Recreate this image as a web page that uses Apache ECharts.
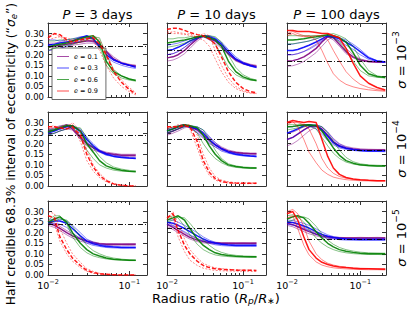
<!DOCTYPE html>
<html><head><meta charset="utf-8">
<script src="https://cdn.jsdelivr.net/npm/echarts@6/dist/echarts.min.js"></script>
<style>html,body{margin:0;padding:0;background:#fff}#c{width:415px;height:312px}</style>
</head><body><div id="c"></div>
<script>
// ---- x sample points (radius ratio) per column ----
const X_P3 = [0.010,0.012,0.014,0.017,0.020,0.025,0.030,0.036,0.043,0.052,0.064,0.08,0.10,0.12];
const X_P10 = [0.010,0.012,0.014,0.017,0.020,0.025,0.030,0.036,0.043,0.052,0.064,0.08,0.10,0.125,0.15];
const X_P100 = [0.010,0.012,0.014,0.017,0.020,0.025,0.030,0.036,0.043,0.052,0.064,0.08,0.10,0.13,0.17,0.22];
const PERIODS = ['3','10','100'];
const SIGMA_EXP = ['\u22123','\u22124','\u22125'];
const E_VALUES = ['0.1','0.3','0.6','0.9'];
const REFERENCE_LEVEL = [0.236, 0.22, 0.172];
const X_TICKS = [0.01, 0.1];
const Y_TICKS = [0, 0.05, 0.10, 0.15, 0.20, 0.25, 0.30];

// each array: [thick curve, thin curve A, thin curve B]
// P = 3 days, sigma = 1e-3
const p3_s3_purple = [
 [0.235,0.24,0.245,0.25,0.255,0.26,0.265,0.265,0.25,0.215,0.18,0.16,0.15,0.145],
 [0.255,0.255,0.26,0.26,0.265,0.27,0.27,0.26,0.24,0.2,0.175,0.16,0.15,0.15],
 [0.22,0.225,0.23,0.24,0.245,0.25,0.255,0.255,0.24,0.22,0.19,0.165,0.155,0.15]];
const p3_s3_blue = [
 [0.245,0.25,0.255,0.26,0.265,0.28,0.29,0.275,0.24,0.2,0.175,0.16,0.15,0.14],
 [0.27,0.27,0.265,0.27,0.275,0.285,0.285,0.27,0.25,0.21,0.18,0.16,0.15,0.145],
 [0.22,0.225,0.23,0.24,0.25,0.265,0.28,0.28,0.23,0.19,0.165,0.15,0.14,0.135]];
const p3_s3_green = [
 [0.235,0.245,0.25,0.255,0.265,0.275,0.285,0.29,0.26,0.17,0.12,0.1,0.085,0.078],
 [0.265,0.265,0.27,0.27,0.275,0.28,0.28,0.275,0.24,0.15,0.11,0.09,0.08,0.075],
 [0.22,0.23,0.24,0.245,0.25,0.26,0.27,0.285,0.28,0.2,0.13,0.1,0.085,0.08]];
const p3_s3_red = [
 [0.28,0.3,0.295,0.27,0.26,0.27,0.275,0.28,0.25,0.2,0.12,0.07,0.035,0.015],
 [0.27,0.28,0.285,0.28,0.27,0.275,0.28,0.29,0.27,0.21,0.13,0.08,0.045,0.02],
 [0.29,0.3,0.285,0.26,0.25,0.26,0.27,0.27,0.22,0.15,0.09,0.05,0.025,0.01]];
// P = 10 days, sigma = 1e-3
const p10_s3_purple = [
 [0.185,0.19,0.2,0.22,0.245,0.275,0.29,0.275,0.265,0.24,0.205,0.175,0.16,0.15,0.145],
 [0.2,0.205,0.215,0.235,0.255,0.28,0.285,0.27,0.255,0.23,0.2,0.17,0.155,0.147,0.142],
 [0.17,0.175,0.185,0.205,0.23,0.265,0.285,0.28,0.27,0.25,0.215,0.18,0.165,0.155,0.15]];
const p10_s3_blue = [
 [0.22,0.225,0.235,0.25,0.265,0.28,0.29,0.285,0.275,0.25,0.215,0.18,0.16,0.148,0.14],
 [0.245,0.25,0.255,0.265,0.275,0.285,0.285,0.28,0.265,0.24,0.205,0.175,0.157,0.145,0.138],
 [0.2,0.205,0.215,0.235,0.255,0.275,0.29,0.29,0.28,0.26,0.225,0.19,0.165,0.152,0.143]];
const p10_s3_green = [
 [0.255,0.26,0.265,0.27,0.275,0.285,0.29,0.28,0.27,0.24,0.17,0.12,0.095,0.083,0.078],
 [0.275,0.275,0.28,0.28,0.285,0.285,0.285,0.275,0.25,0.2,0.14,0.105,0.088,0.08,0.076],
 [0.235,0.24,0.245,0.255,0.265,0.28,0.29,0.29,0.285,0.26,0.2,0.14,0.105,0.088,0.08]];
const p10_s3_red = [
 [0.32,0.325,0.325,0.315,0.305,0.295,0.29,0.275,0.25,0.19,0.12,0.07,0.04,0.025,0.02],
 [0.3,0.31,0.305,0.3,0.29,0.285,0.3,0.29,0.22,0.15,0.09,0.05,0.03,0.02,0.017],
 [0.31,0.3,0.3,0.295,0.3,0.28,0.27,0.24,0.18,0.12,0.07,0.04,0.025,0.018,0.015]];
// P = 100 days, sigma = 1e-3
const p100_s3_purple = [
 [0.17,0.172,0.178,0.19,0.205,0.23,0.26,0.285,0.28,0.25,0.215,0.19,0.175,0.168,0.165,0.165],
 [0.2,0.2,0.205,0.215,0.23,0.25,0.27,0.285,0.27,0.24,0.205,0.185,0.172,0.166,0.163,0.163],
 [0.145,0.148,0.155,0.168,0.185,0.21,0.24,0.27,0.285,0.265,0.23,0.2,0.18,0.17,0.167,0.167]];
const p100_s3_blue = [
 [0.22,0.22,0.225,0.235,0.245,0.26,0.275,0.29,0.285,0.275,0.26,0.24,0.215,0.185,0.17,0.165],
 [0.25,0.25,0.255,0.26,0.265,0.275,0.285,0.29,0.28,0.265,0.245,0.225,0.2,0.178,0.167,0.163],
 [0.2,0.2,0.205,0.215,0.225,0.245,0.265,0.285,0.29,0.28,0.27,0.25,0.225,0.19,0.172,0.167]];
const p100_s3_green = [
 [0.27,0.27,0.272,0.275,0.28,0.285,0.29,0.295,0.29,0.28,0.26,0.21,0.15,0.11,0.097,0.092],
 [0.29,0.29,0.29,0.29,0.29,0.29,0.29,0.29,0.28,0.26,0.22,0.17,0.125,0.1,0.093,0.09],
 [0.25,0.252,0.255,0.26,0.265,0.275,0.285,0.295,0.3,0.29,0.275,0.24,0.18,0.125,0.1,0.094]];
const p100_s3_red = [
 [0.315,0.315,0.31,0.31,0.31,0.305,0.3,0.3,0.29,0.28,0.23,0.16,0.1,0.065,0.045,0.033],
 [0.3,0.31,0.3,0.29,0.285,0.29,0.29,0.27,0.22,0.17,0.12,0.085,0.06,0.045,0.035,0.03],
 [0.29,0.3,0.29,0.285,0.29,0.27,0.22,0.16,0.11,0.08,0.06,0.048,0.04,0.034,0.03,0.027]];
// P = 3 days, sigma = 1e-4
const p3_s4_purple = [
 [0.26,0.265,0.275,0.285,0.27,0.23,0.2,0.18,0.165,0.155,0.15,0.145,0.145,0.145],
 [0.27,0.275,0.285,0.29,0.28,0.24,0.205,0.185,0.17,0.16,0.155,0.15,0.15,0.15],
 [0.245,0.25,0.26,0.27,0.265,0.22,0.19,0.17,0.16,0.15,0.145,0.14,0.14,0.14]];
const p3_s4_blue = [
 [0.25,0.26,0.27,0.28,0.285,0.26,0.22,0.19,0.165,0.15,0.14,0.135,0.132,0.13],
 [0.265,0.27,0.28,0.29,0.285,0.25,0.21,0.18,0.16,0.145,0.14,0.135,0.13,0.13],
 [0.24,0.25,0.26,0.27,0.28,0.27,0.23,0.2,0.17,0.155,0.145,0.14,0.135,0.135]];
const p3_s4_green = [
 [0.255,0.265,0.275,0.285,0.285,0.26,0.2,0.16,0.12,0.095,0.083,0.075,0.07,0.068],
 [0.265,0.27,0.28,0.29,0.28,0.23,0.17,0.13,0.1,0.085,0.075,0.07,0.068,0.066],
 [0.24,0.25,0.26,0.27,0.28,0.275,0.23,0.18,0.14,0.11,0.09,0.08,0.074,0.07]];
const p3_s4_red = [
 [0.28,0.28,0.275,0.27,0.28,0.24,0.15,0.09,0.05,0.025,0.01,0.003,0,0],
 [0.27,0.275,0.28,0.29,0.29,0.21,0.12,0.07,0.04,0.02,0.008,0.002,0,0],
 [0.28,0.285,0.27,0.275,0.3,0.26,0.17,0.1,0.06,0.03,0.012,0.005,0,0]];
// P = 10 days, sigma = 1e-4
const p10_s4_purple = [
 [0.25,0.26,0.27,0.285,0.28,0.265,0.24,0.215,0.195,0.178,0.165,0.158,0.155,0.153,0.153],
 [0.265,0.27,0.28,0.29,0.275,0.25,0.225,0.2,0.185,0.17,0.16,0.155,0.152,0.152,0.15],
 [0.24,0.25,0.26,0.275,0.28,0.275,0.255,0.23,0.205,0.185,0.17,0.162,0.158,0.156,0.156]];
const p10_s4_blue = [
 [0.26,0.27,0.28,0.29,0.28,0.27,0.25,0.22,0.195,0.175,0.16,0.15,0.145,0.142,0.14],
 [0.27,0.275,0.285,0.29,0.275,0.255,0.23,0.205,0.185,0.165,0.155,0.147,0.142,0.14,0.138],
 [0.25,0.26,0.27,0.28,0.285,0.28,0.265,0.235,0.205,0.18,0.165,0.155,0.148,0.145,0.143]];
const p10_s4_green = [
 [0.26,0.27,0.28,0.29,0.285,0.275,0.24,0.19,0.15,0.12,0.1,0.092,0.088,0.085,0.085],
 [0.27,0.28,0.285,0.29,0.28,0.25,0.2,0.16,0.13,0.11,0.095,0.088,0.085,0.083,0.083],
 [0.25,0.26,0.27,0.28,0.285,0.28,0.265,0.22,0.17,0.13,0.105,0.095,0.09,0.088,0.087]];
const p10_s4_red = [
 [0.28,0.28,0.28,0.285,0.28,0.21,0.12,0.065,0.035,0.022,0.016,0.014,0.013,0.013,0.013],
 [0.27,0.28,0.29,0.29,0.27,0.18,0.1,0.05,0.028,0.018,0.014,0.012,0.011,0.011,0.011],
 [0.28,0.275,0.28,0.29,0.29,0.24,0.15,0.085,0.045,0.028,0.02,0.016,0.015,0.015,0.014]];
// P = 100 days, sigma = 1e-4
const p100_s4_purple = [
 [0.22,0.23,0.245,0.265,0.28,0.285,0.27,0.24,0.21,0.19,0.18,0.175,0.172,0.17,0.17,0.17],
 [0.25,0.255,0.265,0.28,0.285,0.28,0.255,0.225,0.2,0.185,0.177,0.173,0.17,0.169,0.168,0.168],
 [0.19,0.2,0.215,0.24,0.26,0.28,0.28,0.255,0.225,0.2,0.187,0.18,0.176,0.174,0.173,0.173]];
const p100_s4_blue = [
 [0.25,0.26,0.27,0.285,0.29,0.285,0.265,0.235,0.205,0.188,0.178,0.172,0.168,0.166,0.165,0.165],
 [0.28,0.28,0.285,0.29,0.285,0.27,0.245,0.215,0.195,0.18,0.173,0.168,0.165,0.163,0.163,0.162],
 [0.22,0.23,0.245,0.265,0.28,0.29,0.28,0.255,0.22,0.198,0.183,0.175,0.17,0.168,0.167,0.167]];
const p100_s4_green = [
 [0.28,0.282,0.285,0.288,0.29,0.285,0.26,0.22,0.18,0.145,0.12,0.108,0.1,0.097,0.095,0.095],
 [0.29,0.29,0.29,0.29,0.285,0.27,0.23,0.19,0.155,0.13,0.113,0.104,0.098,0.095,0.094,0.093],
 [0.265,0.27,0.275,0.28,0.285,0.29,0.28,0.25,0.21,0.17,0.135,0.115,0.105,0.1,0.098,0.097]];
const p100_s4_red = [
 [0.3,0.31,0.305,0.3,0.305,0.3,0.22,0.14,0.085,0.055,0.04,0.033,0.03,0.027,0.025,0.025],
 [0.29,0.305,0.28,0.22,0.16,0.11,0.075,0.055,0.042,0.035,0.03,0.027,0.025,0.024,0.023,0.023],
 [0.3,0.3,0.3,0.29,0.27,0.2,0.13,0.085,0.06,0.045,0.037,0.032,0.029,0.027,0.026,0.026]];
// P = 3 days, sigma = 1e-5
const p3_s5_purple = [
 [0.245,0.235,0.22,0.2,0.185,0.17,0.16,0.153,0.148,0.145,0.145,0.145,0.145,0.145],
 [0.255,0.245,0.23,0.21,0.195,0.175,0.165,0.157,0.15,0.148,0.148,0.147,0.148,0.148],
 [0.235,0.225,0.21,0.19,0.175,0.16,0.152,0.147,0.143,0.14,0.14,0.141,0.14,0.141]];
const p3_s5_blue = [
 [0.25,0.255,0.255,0.245,0.22,0.185,0.16,0.148,0.14,0.135,0.132,0.13,0.13,0.13],
 [0.26,0.265,0.265,0.255,0.235,0.2,0.17,0.155,0.145,0.14,0.135,0.133,0.132,0.132],
 [0.24,0.245,0.24,0.225,0.2,0.17,0.15,0.14,0.135,0.13,0.128,0.127,0.127,0.127]];
const p3_s5_green = [
 [0.25,0.265,0.275,0.25,0.2,0.15,0.12,0.1,0.09,0.08,0.075,0.072,0.07,0.07],
 [0.26,0.28,0.28,0.24,0.18,0.13,0.105,0.09,0.082,0.076,0.072,0.07,0.068,0.068],
 [0.24,0.255,0.265,0.26,0.23,0.18,0.14,0.115,0.1,0.088,0.08,0.075,0.072,0.07]];
const p3_s5_red = [
 [0.28,0.27,0.18,0.12,0.08,0.045,0.022,0.012,0.006,0.003,0.001,0,0,0],
 [0.3,0.29,0.22,0.15,0.1,0.06,0.03,0.017,0.008,0.004,0.002,0,0,0],
 [0.26,0.24,0.16,0.1,0.065,0.035,0.017,0.008,0.004,0.002,0,0,0,0]];
// P = 10 days, sigma = 1e-5
const p10_s5_purple = [
 [0.24,0.225,0.21,0.192,0.178,0.165,0.158,0.154,0.152,0.15,0.15,0.15,0.15,0.15,0.15],
 [0.25,0.235,0.22,0.2,0.186,0.172,0.163,0.158,0.155,0.153,0.153,0.152,0.153,0.152,0.153],
 [0.23,0.215,0.2,0.183,0.17,0.158,0.152,0.149,0.147,0.146,0.146,0.146,0.146,0.146,0.146]];
const p10_s5_blue = [
 [0.25,0.245,0.235,0.22,0.205,0.185,0.17,0.158,0.15,0.145,0.142,0.14,0.14,0.14,0.14],
 [0.26,0.26,0.25,0.235,0.22,0.2,0.18,0.165,0.155,0.148,0.145,0.143,0.143,0.143,0.143],
 [0.24,0.232,0.22,0.205,0.19,0.172,0.16,0.15,0.143,0.139,0.137,0.136,0.136,0.136,0.136]];
const p10_s5_green = [
 [0.26,0.27,0.28,0.26,0.22,0.17,0.14,0.12,0.105,0.097,0.092,0.089,0.087,0.086,0.086],
 [0.27,0.28,0.27,0.23,0.19,0.145,0.12,0.105,0.095,0.09,0.087,0.085,0.084,0.083,0.083],
 [0.25,0.26,0.275,0.27,0.245,0.2,0.165,0.14,0.12,0.107,0.098,0.093,0.09,0.089,0.088]];
const p10_s5_red = [
 [0.27,0.29,0.21,0.14,0.1,0.065,0.045,0.035,0.03,0.027,0.025,0.023,0.022,0.022,0.021],
 [0.28,0.27,0.18,0.11,0.07,0.045,0.032,0.026,0.022,0.02,0.019,0.018,0.018,0.017,0.017],
 [0.26,0.3,0.24,0.17,0.12,0.08,0.055,0.042,0.034,0.03,0.027,0.025,0.024,0.023,0.023]];
// P = 100 days, sigma = 1e-5
const p100_s5_purple = [
 [0.245,0.238,0.228,0.215,0.205,0.193,0.185,0.18,0.177,0.175,0.175,0.175,0.175,0.175,0.175,0.175],
 [0.255,0.248,0.238,0.225,0.213,0.2,0.19,0.184,0.18,0.178,0.177,0.177,0.178,0.177,0.178,0.177],
 [0.235,0.228,0.218,0.205,0.195,0.185,0.178,0.174,0.172,0.171,0.171,0.171,0.171,0.171,0.171,0.171]];
const p100_s5_blue = [
 [0.25,0.248,0.242,0.232,0.222,0.205,0.192,0.183,0.177,0.173,0.17,0.169,0.168,0.168,0.168,0.168],
 [0.26,0.258,0.252,0.244,0.235,0.218,0.203,0.19,0.182,0.177,0.173,0.171,0.17,0.17,0.17,0.17],
 [0.24,0.236,0.23,0.22,0.21,0.193,0.182,0.175,0.17,0.167,0.165,0.164,0.164,0.164,0.164,0.164]];
const p100_s5_green = [
 [0.265,0.275,0.28,0.27,0.245,0.205,0.175,0.15,0.133,0.12,0.112,0.107,0.103,0.101,0.1,0.1],
 [0.28,0.285,0.275,0.25,0.215,0.175,0.15,0.132,0.12,0.111,0.105,0.101,0.099,0.097,0.097,0.096],
 [0.25,0.26,0.27,0.275,0.265,0.23,0.195,0.165,0.145,0.13,0.12,0.113,0.108,0.105,0.104,0.103]];
const p100_s5_red = [
 [0.29,0.3,0.26,0.18,0.12,0.08,0.06,0.05,0.043,0.038,0.035,0.032,0.03,0.029,0.028,0.027],
 [0.27,0.28,0.22,0.14,0.095,0.062,0.047,0.039,0.034,0.031,0.029,0.027,0.026,0.025,0.025,0.024],
 [0.3,0.31,0.29,0.23,0.16,0.1,0.072,0.056,0.047,0.041,0.037,0.034,0.032,0.031,0.03,0.03]];

const X_BY_COL = [X_P3, X_P10, X_P100];
const PANELS = [
 [p3_s3_purple,p3_s3_blue,p3_s3_green,p3_s3_red],
 [p10_s3_purple,p10_s3_blue,p10_s3_green,p10_s3_red],
 [p100_s3_purple,p100_s3_blue,p100_s3_green,p100_s3_red],
 [p3_s4_purple,p3_s4_blue,p3_s4_green,p3_s4_red],
 [p10_s4_purple,p10_s4_blue,p10_s4_green,p10_s4_red],
 [p100_s4_purple,p100_s4_blue,p100_s4_green,p100_s4_red],
 [p3_s5_purple,p3_s5_blue,p3_s5_green,p3_s5_red],
 [p10_s5_purple,p10_s5_blue,p10_s5_green,p10_s5_red],
 [p100_s5_purple,p100_s5_blue,p100_s5_green,p100_s5_red]];

// ---- layout / style ----
const FONT = 'DejaVu Sans';
const COLORS = ['#800080','#0000ff','#008000','#ff0000'];
const XMAX = [0.165, 0.20, 0.225];
const COL_LEFT = [48, 167, 287];
const ROW_TOP = [23, 112, 201];
const PW = 99, PH = 74;
const MINOR = [0.02,0.03,0.04,0.05,0.06,0.07,0.08,0.09,0.2];
const AX = '#333';

const grid = [], xAxis = [], yAxis = [], series = [];
const supLabel = v => '{b|10}{s|' + (v < 0.05 ? '\u22122' : '\u22121') + '}';

for (let g = 0; g < 9; g++) {
  const row = Math.floor(g / 3), col = g % 3;
  grid.push({left: COL_LEFT[col], top: ROW_TOP[row], width: PW, height: PH});
  const base = {type: 'log', logBase: 10, gridIndex: g, min: 0.01, max: XMAX[col],
    splitLine: {show: false}, axisLine: {show: true, lineStyle: {color: AX, width: 1}}};
  xAxis.push(Object.assign({}, base, {position: 'bottom',
    axisTick: {inside: true, length: 4, lineStyle: {color: AX}, customValues: X_TICKS},
    axisLabel: {show: row === 2, customValues: X_TICKS, formatter: supLabel, margin: 3,
      color: '#000', fontFamily: FONT, fontSize: 9.5,
      rich: {b: {fontSize: 9.5, fontFamily: FONT, color: '#000', fontWeight: 'normal'},
             s: {fontSize: 6.5, fontFamily: FONT, color: '#000', fontWeight: 'normal', padding: [0, 0, 7, 0]}}}}));
  xAxis.push(Object.assign({}, base, {position: 'bottom', axisLine: {show: false},
    axisTick: {inside: true, length: 2, lineStyle: {color: AX}, customValues: MINOR},
    axisLabel: {show: false}}));
  xAxis.push(Object.assign({}, base, {position: 'top',
    axisTick: {inside: true, length: 4, lineStyle: {color: AX}, customValues: X_TICKS},
    axisLabel: {show: false}}));
  xAxis.push(Object.assign({}, base, {position: 'top', axisLine: {show: false},
    axisTick: {inside: true, length: 2, lineStyle: {color: AX}, customValues: MINOR},
    axisLabel: {show: false}}));
  const ybase = {type: 'value', gridIndex: g, min: 0, max: 0.35, interval: 0.05,
    splitLine: {show: false}, axisLine: {show: true, lineStyle: {color: AX, width: 1}},
    axisTick: {inside: true, length: 4, lineStyle: {color: AX}, customValues: Y_TICKS}};
  yAxis.push(Object.assign({}, ybase, {position: 'left',
    axisLabel: {show: col === 0, customValues: Y_TICKS, formatter: v => v.toFixed(2),
      color: '#000', fontFamily: FONT, fontSize: 8.5, margin: 4}}));
  yAxis.push(Object.assign({}, ybase, {position: 'right', axisLabel: {show: false}}));

  const xs = X_BY_COL[col];
  PANELS[g].forEach((curves, ci) => {
    // thin curves first, thick on top
    [1, 2, 0].forEach(k => {
      const thick = k === 0;
      const dashed = ci === 3 && col < 2;
      series.push({
        type: 'line', name: 'e = ' + E_VALUES[ci], xAxisIndex: 4 * g, yAxisIndex: 2 * g,
        symbol: 'none', showSymbol: false, silent: true, animation: false, clip: true,
        data: xs.map((x, i) => [x, curves[k][i]]),
        lineStyle: {color: COLORS[ci], width: thick ? 1.5 : 0.8, opacity: thick ? 0.9 : 0.6,
          type: dashed ? (thick ? [4, 2] : [2, 1.5]) : 'solid'},
        itemStyle: {color: COLORS[ci]}, z: 2 + ci
      });
    });
  });
  series.push({type: 'line', xAxisIndex: 4 * g, yAxisIndex: 2 * g, data: [], z: 10,
    animation: false, silent: true,
    markLine: {silent: true, symbol: 'none', animation: false, label: {show: false},
      lineStyle: {color: '#000', width: 1.1, type: [5, 2, 1, 2], opacity: 0.9},
      data: [{yAxis: REFERENCE_LEVEL[col]}]}});
}

const graphic = [];
const tok = (size, extra) => Object.assign({fontSize: size, fontWeight: 'normal', fontFamily: FONT,
  fill: '#000', stroke: 'none', lineWidth: 0, textBorderWidth: 0}, extra || {});
const txt = (x, y, text, size, rot, rich) => graphic.push({type: 'text', x: x, y: y,
  rotation: rot || 0, silent: true, z: 100,
  style: {text: text, fill: '#000', stroke: 'none', lineWidth: 0, font: 'normal ' + size + 'px ' + FONT,
    align: 'center', verticalAlign: 'middle', rich: rich || {}}});
const ital = size => ({i: tok(size, {fontStyle: 'italic'}),
  n: tok(size),
  s: tok(size * 0.7, {padding: [0, 0, size * 0.75, 0]}),
  u: tok(size * 0.7, {padding: [size * 0.5, 0, 0, 0]}),
  ui: tok(size * 0.7, {fontStyle: 'italic', padding: [size * 0.5, 0, 0, 0]})});
for (let c = 0; c < 3; c++)
  txt(COL_LEFT[c] + PW / 2, 14, '{i|P}{n| = ' + PERIODS[c] + ' days}', 13, 0, ital(13));
for (let r = 0; r < 3; r++)
  txt(401, ROW_TOP[r] + PH / 2, '{i|\u03c3}{n| = 10}{s|' + SIGMA_EXP[r] + '}', 13, Math.PI / 2, ital(13));
txt(11, 154, '{n|Half credible 68.3% interval of eccentricity (\u201c}{i|\u03c3}{ui|e}{n|\u201d)}', 12.3, Math.PI / 2, ital(12.3));
txt(216, 298, '{n|Radius ratio (}{i|R}{ui|p}{n|/}{i|R}{u|\u2217}{n|)}', 13, 0, ital(13));

const chart = echarts.init(document.getElementById('c'), null, {renderer: 'svg'});
chart.setOption({
  animation: false,
  grid: grid, xAxis: xAxis, yAxis: yAxis, series: series, graphic: graphic,
  legend: {data: E_VALUES.map(v => 'e = ' + v), orient: 'vertical', left: 52, top: 48,
    icon: 'rect', itemWidth: 12, itemHeight: 1, itemGap: 4.5, padding: [5, 8, 5, 5], selectedMode: false,
    backgroundColor: '#fff', borderColor: '#444', borderWidth: 0.8,
    itemStyle: {opacity: 0.7},
    formatter: n => '{i|e} = ' + n.slice(4),
    textStyle: {fontSize: 6.5, fontFamily: FONT, color: '#000', lineHeight: 7,
      rich: {i: {fontStyle: 'italic', fontSize: 6.5, fontFamily: FONT}}}}
});
</script></body></html>
